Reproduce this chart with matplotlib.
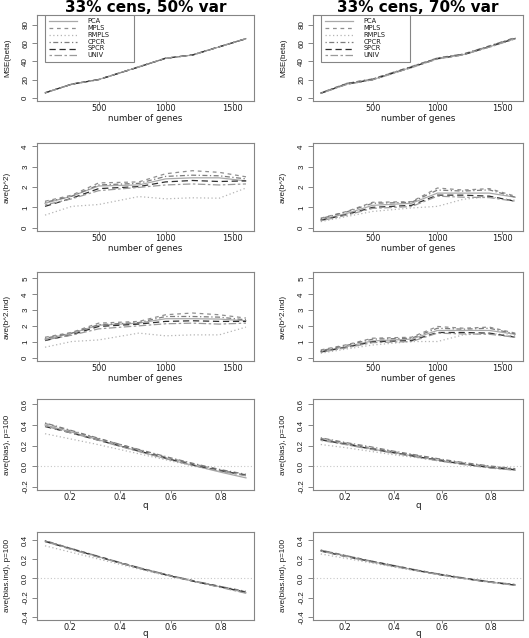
import matplotlib
matplotlib.use("Agg")
import matplotlib.pyplot as plt
from matplotlib import font_manager as fm
from matplotlib.patches import Rectangle

# ---------------- data ----------------
methods = ["PCA", "MPLS", "RMPLS", "CPCR", "SPCR", "UNIV"]
genes = [100, 300, 500, 800, 1000, 1200, 1400, 1600]
q = [0.1, 0.2, 0.3, 0.4, 0.5, 0.6, 0.7, 0.8, 0.9]
col_titles = ["33% cens, 50% var", "33% cens, 70% var"]
row_ylabels = ["MSE(beta)", "ave(b^2)", "ave(b^2.ind)", "ave(bias), p=100", "ave(bias.ind), p=100"]
row_xlabels = ["number of genes", "number of genes", "number of genes", "q", "q"]
row_yticks = [[0, 20, 40, 60, 80], [0, 1, 2, 3, 4], [0, 1, 2, 3, 4, 5],
              [-0.2, 0.0, 0.2, 0.4, 0.6], [-0.4, -0.2, 0.0, 0.2, 0.4]]
row_yticklabels = [["0", "20", "40", "60", "80"], ["0", "1", "2", "3", "4"],
                   ["0", "1", "2", "3", "4", "5"],
                   ["-0.2", "0.0", "0.2", "0.4", "0.6"], ["-0.4", "-0.2", "0.0", "0.2", "0.4"]]
genes_ticks = [500, 1000, 1500]
q_ticks = [0.2, 0.4, 0.6, 0.8]

mse_50 = dict(PCA=[5.5, 15.0, 20.0, 34.0, 43.5, 47.0, 56.0, 65.0],
              MPLS=[5.3, 15.2, 20.2, 33.8, 43.2, 47.2, 56.2, 64.8],
              RMPLS=[5.6, 14.8, 19.8, 34.2, 43.6, 46.8, 55.8, 65.2],
              CPCR=[5.4, 15.1, 20.1, 34.0, 43.4, 47.1, 56.1, 65.0],
              SPCR=[5.5, 15.0, 20.0, 33.9, 43.5, 47.0, 56.0, 64.9],
              UNIV=[5.5, 14.9, 19.9, 34.1, 43.5, 46.9, 55.9, 65.1])
mse_70 = dict(PCA=[5.0, 15.0, 20.0, 33.5, 43.0, 47.5, 56.0, 65.0],
              MPLS=[5.3, 15.8, 20.6, 34.2, 43.6, 48.0, 56.8, 66.0],
              RMPLS=[4.8, 14.6, 19.6, 33.0, 42.6, 47.0, 55.5, 64.5],
              CPCR=[5.4, 15.9, 20.8, 34.4, 43.8, 48.2, 57.0, 66.2],
              SPCR=[5.0, 15.2, 20.0, 33.6, 43.0, 47.4, 56.2, 65.2],
              UNIV=[4.9, 14.8, 19.8, 33.2, 42.8, 47.2, 55.8, 64.8])

b2_50 = dict(PCA=[1.20, 1.55, 2.05, 2.10, 2.40, 2.45, 2.45, 2.30],
             MPLS=[1.30, 1.60, 2.20, 2.25, 2.65, 2.80, 2.72, 2.50],
             RMPLS=[0.62, 1.05, 1.14, 1.53, 1.42, 1.47, 1.45, 1.95],
             CPCR=[1.25, 1.55, 2.10, 2.18, 2.52, 2.58, 2.55, 2.40],
             SPCR=[1.05, 1.45, 1.92, 2.02, 2.25, 2.32, 2.27, 2.30],
             UNIV=[1.12, 1.42, 1.82, 1.98, 2.10, 2.15, 2.10, 2.15])
b2_70 = dict(PCA=[0.40, 0.70, 1.10, 1.20, 1.70, 1.70, 1.70, 1.50],
             MPLS=[0.47, 0.80, 1.25, 1.28, 1.95, 1.85, 1.92, 1.55],
             RMPLS=[0.30, 0.55, 0.80, 0.97, 1.05, 1.40, 1.52, 1.35],
             CPCR=[0.45, 0.78, 1.20, 1.25, 1.85, 1.80, 1.86, 1.50],
             SPCR=[0.36, 0.65, 1.00, 1.10, 1.60, 1.60, 1.55, 1.30],
             UNIV=[0.34, 0.62, 0.95, 1.04, 1.55, 1.50, 1.48, 1.30])

b2ind_50 = dict(PCA=[1.17, 1.55, 2.05, 2.18, 2.46, 2.46, 2.44, 2.33],
                MPLS=[1.29, 1.60, 2.18, 2.29, 2.71, 2.82, 2.71, 2.50],
                RMPLS=[0.66, 1.02, 1.12, 1.55, 1.38, 1.44, 1.44, 1.93],
                CPCR=[1.23, 1.55, 2.08, 2.22, 2.60, 2.60, 2.56, 2.39],
                SPCR=[1.08, 1.45, 1.97, 2.12, 2.29, 2.33, 2.29, 2.29],
                UNIV=[1.12, 1.42, 1.82, 2.01, 2.14, 2.18, 2.12, 2.18])
b2ind_70 = dict(PCA=[0.40, 0.70, 1.06, 1.17, 1.72, 1.72, 1.72, 1.48],
                MPLS=[0.49, 0.82, 1.23, 1.29, 1.97, 1.86, 1.93, 1.55],
                RMPLS=[0.28, 0.55, 0.80, 1.02, 1.02, 1.44, 1.55, 1.38],
                CPCR=[0.44, 0.78, 1.17, 1.23, 1.86, 1.80, 1.86, 1.50],
                SPCR=[0.36, 0.66, 1.00, 1.08, 1.59, 1.59, 1.55, 1.29],
                UNIV=[0.34, 0.63, 0.95, 1.02, 1.55, 1.50, 1.48, 1.29])

bias_50 = dict(PCA=[0.400, 0.335, 0.265, 0.195, 0.125, 0.060, 0.000, -0.060, -0.115],
               MPLS=[0.415, 0.345, 0.275, 0.210, 0.140, 0.075, 0.015, -0.040, -0.085],
               RMPLS=[0.315, 0.265, 0.215, 0.160, 0.105, 0.050, -0.005, -0.050, -0.090],
               CPCR=[0.420, 0.350, 0.280, 0.210, 0.145, 0.080, 0.020, -0.035, -0.080],
               SPCR=[0.385, 0.325, 0.260, 0.195, 0.130, 0.065, 0.005, -0.045, -0.090],
               UNIV=[0.390, 0.325, 0.260, 0.190, 0.125, 0.060, 0.000, -0.050, -0.095])
bias_70 = dict(PCA=[0.260, 0.215, 0.170, 0.130, 0.090, 0.050, 0.015, -0.015, -0.040],
               MPLS=[0.270, 0.225, 0.180, 0.140, 0.100, 0.060, 0.025, -0.005, -0.030],
               RMPLS=[0.210, 0.180, 0.145, 0.110, 0.080, 0.045, 0.015, -0.010, -0.030],
               CPCR=[0.275, 0.230, 0.190, 0.145, 0.105, 0.065, 0.030, 0.000, -0.025],
               SPCR=[0.255, 0.215, 0.170, 0.130, 0.090, 0.050, 0.015, -0.015, -0.035],
               UNIV=[0.250, 0.210, 0.165, 0.125, 0.085, 0.045, 0.010, -0.020, -0.040])

biasind_50 = dict(PCA=[0.390, 0.310, 0.235, 0.160, 0.090, 0.025, -0.035, -0.090, -0.150],
                  MPLS=[0.390, 0.315, 0.240, 0.165, 0.095, 0.030, -0.030, -0.085, -0.140],
                  RMPLS=[0.340, 0.275, 0.210, 0.145, 0.080, 0.020, -0.035, -0.090, -0.140],
                  CPCR=[0.395, 0.315, 0.240, 0.165, 0.095, 0.030, -0.030, -0.085, -0.135],
                  SPCR=[0.385, 0.310, 0.235, 0.160, 0.090, 0.025, -0.035, -0.090, -0.145],
                  UNIV=[0.385, 0.305, 0.230, 0.160, 0.090, 0.025, -0.035, -0.095, -0.155])
biasind_70 = dict(PCA=[0.290, 0.235, 0.180, 0.130, 0.080, 0.035, -0.005, -0.040, -0.070],
                  MPLS=[0.295, 0.240, 0.185, 0.135, 0.085, 0.040, 0.000, -0.035, -0.065],
                  RMPLS=[0.255, 0.210, 0.165, 0.120, 0.075, 0.035, -0.005, -0.040, -0.065],
                  CPCR=[0.295, 0.240, 0.185, 0.135, 0.085, 0.040, 0.000, -0.035, -0.065],
                  SPCR=[0.285, 0.230, 0.180, 0.130, 0.080, 0.035, -0.005, -0.040, -0.070],
                  UNIV=[0.285, 0.230, 0.175, 0.125, 0.078, 0.033, -0.007, -0.042, -0.072])

# ---------------- style ----------------
styles = dict(PCA=dict(color="#a9a9a9", ls="-"),
              MPLS=dict(color="#8e8e8e", ls=(0, (3, 3))),
              RMPLS=dict(color="#b5b5b5", ls=(0, (1, 2))),
              CPCR=dict(color="#7c7c7c", ls=(0, (1, 2, 4, 2))),
              SPCR=dict(color="#2e2e2e", ls=(0, (5, 3))),
              UNIV=dict(color="#9a9a9a", ls=(0, (2, 2, 6, 2))))

names = {f.name for f in fm.fontManager.ttflist}
narrow = "Liberation Sans Narrow" if "Liberation Sans Narrow" in names else "Liberation Sans"
wide = "DejaVu Sans"

W, H = 529, 638
fig = plt.figure(figsize=(W / 100, H / 100), dpi=100)

rows_y = [(15, 101), (143, 231), (272, 361), (399, 490), (532, 620)]
cols_x = [(37, 254), (313, 523)]
ylims = [(-3.5, 91.0), (-0.16, 4.16), (-0.21, 5.41), (-0.233, 0.653), (-0.434, 0.484)]
xlab_off = [17.5, 17.5, 17.5, 15.5, 13.0]
panel_data = [(mse_50, mse_70), (b2_50, b2_70), (b2ind_50, b2ind_70),
              (bias_50, bias_70), (biasind_50, biasind_70)]
box_col = "#858585"
txt_col = "#1a1a1a"

for r in range(5):
    y0, y1 = rows_y[r]
    for c in range(2):
        x0, x1 = cols_x[c]
        wpx, hpx = x1 - x0, y1 - y0
        ax = fig.add_axes([x0 / W, 1 - y1 / H, wpx / W, hpx / H])
        data = panel_data[r][c]
        xs = genes if r < 3 else q
        if r >= 3:
            ax.axhline(0, color="#c8c8c8", lw=0.8, ls=(0, (1, 2)), zorder=1)
        for m in methods:
            st = styles[m]
            ax.plot(xs, data[m], color=st["color"], ls=st["ls"], lw=0.9, zorder=2)
        if r < 3:
            ax.set_xlim(40, 1660)
            ax.set_xticks(genes_ticks)
            ax.set_xticklabels([str(t) for t in genes_ticks])
        else:
            ax.set_xlim(0.068, 0.932)
            ax.set_xticks(q_ticks)
            ax.set_xticklabels(["%.1f" % t for t in q_ticks])
        ax.set_ylim(*ylims[r])
        ax.set_yticks(row_yticks[r])
        ax.set_yticklabels(row_yticklabels[r])
        for s in ax.spines.values():
            s.set_color(box_col)
            s.set_linewidth(0.8)
        ax.tick_params(axis="x", length=2.0, width=0.7, color=box_col, pad=0.0,
                       labelsize=5.9, labelcolor=txt_col)
        ax.tick_params(axis="y", length=3.6, width=0.7, color=box_col, pad=2.0,
                       labelsize=5.8, labelcolor=txt_col, labelrotation=90)
        for lab in ax.get_xticklabels():
            lab.set_family(wide)
        for lab in ax.get_yticklabels():
            lab.set_family(narrow)
            lab.set_va("center")
        ax.set_xlabel(row_xlabels[r], family=wide, fontsize=6.3, color=txt_col, va="center")
        ax.xaxis.set_label_coords(0.5, -xlab_off[r] / hpx)
        ax.set_ylabel(row_ylabels[r], family=narrow, fontsize=5.8, color=txt_col,
                      va="center", ha="center", rotation=90)
        ax.yaxis.set_label_coords(-29.5 / wpx, 0.5)
        if r == 0:
            ax.set_title(col_titles[c], family=wide, fontweight="bold", fontsize=11.0,
                         color="black", va="center", pad=0, y=1 + (y0 - 7.0) / hpx)
            # legend box drawn in axes fraction
            bx0, bx1 = 8.0 / wpx, 97.0 / wpx
            by1, by0 = 1.0, 1 - 47.0 / hpx
            ax.add_patch(Rectangle((bx0, by0), bx1 - bx0, by1 - by0, transform=ax.transAxes,
                                   facecolor="white", edgecolor=box_col, lw=0.8, zorder=5))
            for i, m in enumerate(methods):
                yy = 1 - (5.9 + 6.9 * i) / hpx
                st = styles[m]
                ax.plot([12.3 / wpx, 40.3 / wpx], [yy, yy], transform=ax.transAxes,
                        color=st["color"], ls=st["ls"], lw=0.9, zorder=6, clip_on=False)
                ax.text(50.5 / wpx, yy, m, transform=ax.transAxes, family=wide,
                        fontsize=4.8, color=txt_col, va="center", ha="left", zorder=6)

fig.savefig("out.png", dpi=100)
